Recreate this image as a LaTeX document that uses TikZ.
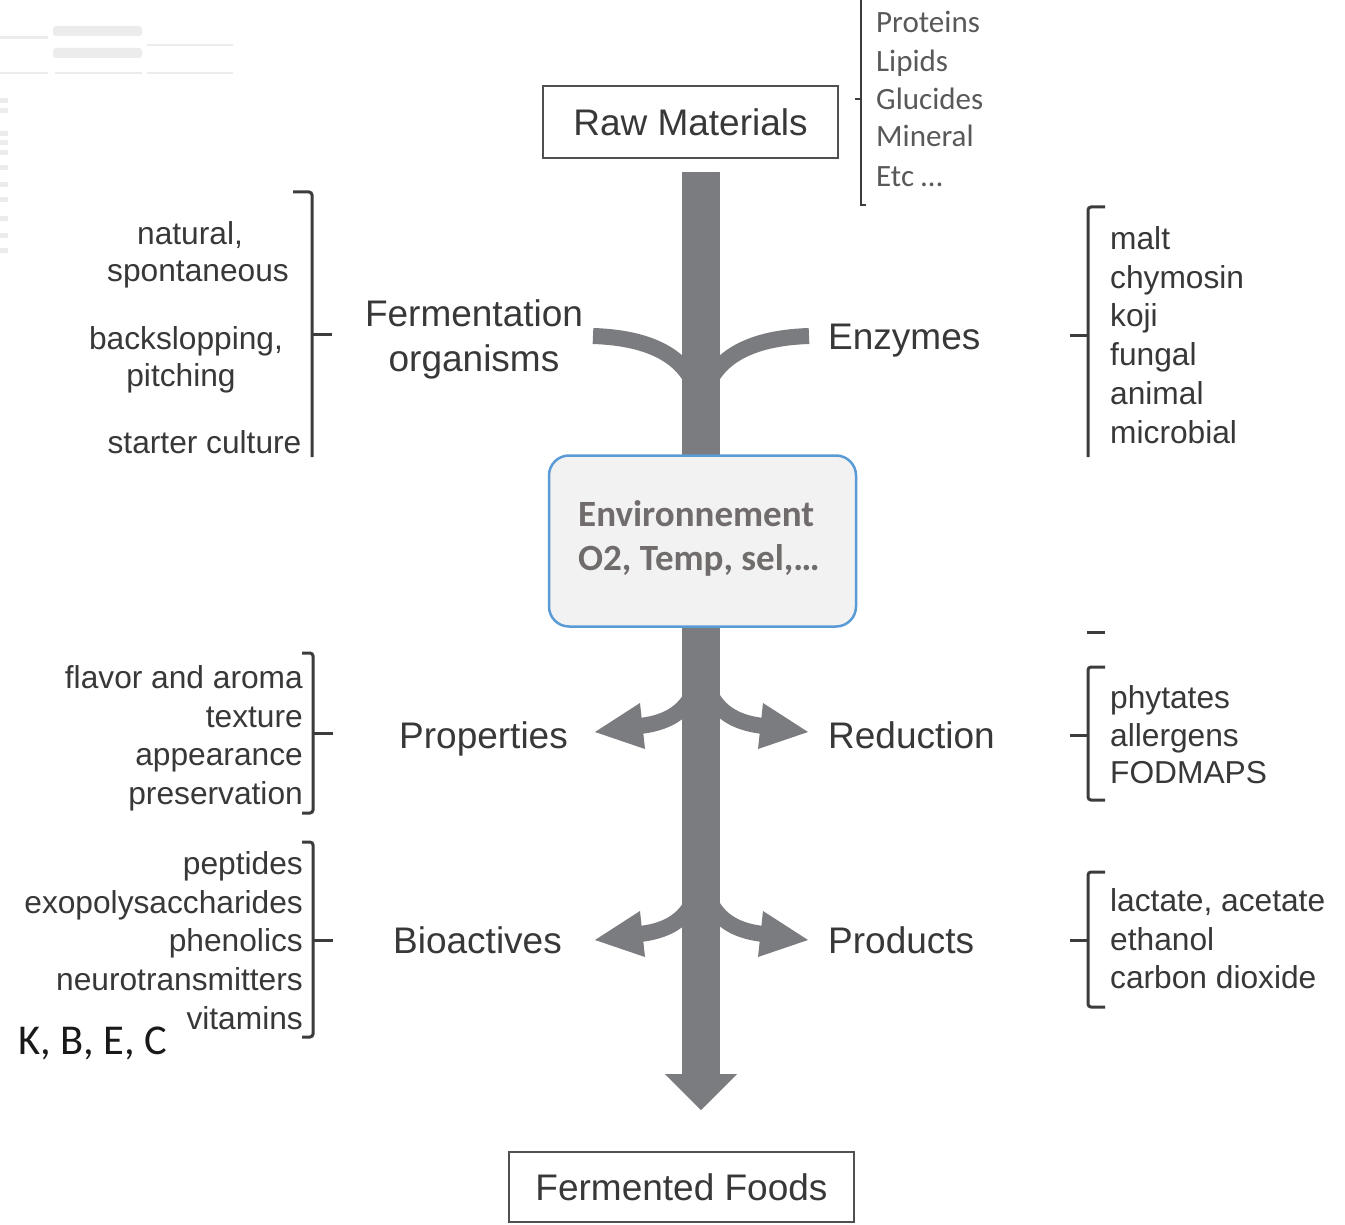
\documentclass[tikz,border=0pt]{standalone}
\usepackage{fontspec}
\setmainfont{Liberation Sans}
\newfontfamily\carl{Carlito}
\definecolor{labc}{HTML}{383838}
\definecolor{brkc}{HTML}{3C3C3C}
\definecolor{boxc}{HTML}{505050}
\definecolor{flowc}{HTML}{7B7C80}
\definecolor{envb}{HTML}{5B9BD5}
\definecolor{envf}{HTML}{F2F2F2}
\definecolor{envt}{HTML}{716C6C}
\definecolor{protc}{HTML}{595959}
\definecolor{ghost}{HTML}{ECECEC}
\begin{document}
\begin{tikzpicture}[x=1pt,y=-1pt,
  lab/.style={inner sep=0pt, text height=26.5pt, text depth=0pt, font=\fontsize{37}{44}\selectfont, text=labc},
  item/.style={inner sep=0pt, text height=22.7pt, text depth=0pt, font=\fontsize{31.7}{39}\selectfont, text=labc},
  prot/.style={inner sep=0pt, text height=20pt, text depth=0pt, font=\carl\fontsize{31}{38}\selectfont, text=protc, anchor=west},
  envtxt/.style={inner sep=0pt, text height=23.8pt, text depth=0pt, font=\carl\bfseries\fontsize{37}{45}\selectfont, text=envt, anchor=west},
  brk/.style={draw=brkc, line width=3pt, rounded corners=3pt},
  flow/.style={draw=flowc, line width=16pt},
  head/.style={fill=flowc},
  box/.style={draw=boxc, line width=2pt, inner sep=0pt, text height=26.5pt, text depth=0pt, font=\fontsize{37}{44}\selectfont, text=labc}
]
\useasboundingbox (0,0) rectangle (1345,1225);
\fill[white] (0,0) rectangle (1345,1225);

% faint remnants top-left
\draw[ghost, line width=3pt] (0,38) -- (48,38);
\fill[ghost, rounded corners=3pt] (53,26) rectangle (142,36);
\fill[ghost, rounded corners=3pt] (53,48) rectangle (142,58);
\draw[ghost, line width=2pt] (147,45) -- (233,45);
\draw[ghost, line width=2pt] (0,73) -- (48,73) (55,73) -- (142,73) (147,73) -- (233,73);
\foreach \yy in {98,108,131,140,150,165,182,197,216,233,248}{
  \fill[ghost] (0,\yy) rectangle (8,\yy+5);
}

% trunk
\coordinate (trunktop) at (701,172);
\coordinate (trunkend) at (701,1075);
\draw[flowc, line width=38pt] (trunktop) -- (trunkend);
\fill[head] (665,1074) -- (737,1074) -- (701,1110) -- cycle;

% top branches
\draw[flow] (593,336) .. controls (655,338) and (701,360) .. (701,420);
\draw[flow] (809,336) .. controls (747,338) and (701,360) .. (701,420);

% lower arrows
\foreach \dy in {0,208}{
  \draw[flow] (701,650+\dy) .. controls (701,697+\dy) and (683,721+\dy) .. (640,726+\dy);
  \fill[head] (595,732+\dy) -- (640,703+\dy) -- (645,749+\dy) -- cycle;
  \draw[flow] (702,650+\dy) .. controls (702,697+\dy) and (720,721+\dy) .. (763,726+\dy);
  \fill[head] (808,732+\dy) -- (763,703+\dy) -- (758,749+\dy) -- cycle;
}

% boxes
\node[box, minimum width=295pt, minimum height=72pt] (raw) at (690.5,122) {Raw Materials};
\node[box, minimum width=345pt, minimum height=70pt] (ferm) at (681.5,1187) {Fermented Foods};
\node[draw=envb, fill=envf, line width=2.5pt, rounded corners=20pt, minimum width=307pt, minimum height=171pt, inner sep=0pt] (env) at (702.5,541) {};
\node[envtxt] (env1) at (578,515) {Environnement};
\node[envtxt] (env2) at (578,559) {O2, Temp, sel,\ldots};

% raw materials list
\draw[brkc, line width=1.2pt] (861,-2) -- (861,205) -- (866,205);
\draw[brkc, line width=1.2pt] (855,99) -- (861,99);
\node[prot] (p1) at (876,23) {Proteins};
\node[prot] (p2) at (876,62) {Lipids};
\node[prot] (p3) at (876,100) {Glucides};
\node[prot] (p4) at (876,137) {Mineral};
\node[prot] (p5) at (876,177) {Etc \ldots};

% main labels
\node[lab] (fo1) at (474,313) {Fermentation};
\node[lab] (fo2) at (474,358) {organisms};
\node[lab, anchor=west] (enz) at (828,336) {Enzymes};
\node[lab] (prop) at (483.5,735) {Properties};
\node[lab, anchor=west] (red) at (828,735) {Reduction};
\node[lab] (bio) at (477.5,940) {Bioactives};
\node[lab, anchor=west] (prod) at (828,940) {Products};

% left top bracket
\draw[brk] (293,192) -- (312,192) -- (312,457);
\draw[brk] (312,334) -- (332,334);
\node[item] (n1) at (190,233) {natural,};
\node[item] (n2) at (198,270) {spontaneous};
\node[item] (n3) at (186,338) {backslopping,};
\node[item] (n4) at (181,375) {pitching};
\node[item] (n5) at (204.5,442) {starter culture};

% right top bracket
\draw[brk] (1105,207) -- (1088,207) -- (1088,457);
\draw[brk] (1070,335) -- (1088,335);
\draw[brk] (1087,632) -- (1105,632);
\foreach \t/\yy/\nm in {malt/238/e1, chymosin/277/e2, koji/315/e3, fungal/354/e4, animal/393/e5, microbial/432/e6}{
  \node[item, anchor=west] (\nm) at (1110,\yy) {\t};
}

% properties bracket
\draw[brk] (302,653) -- (313,653) -- (313,813) -- (302,813);
\draw[brk] (313,733) -- (333,733);
\foreach \t/\yy/\nm in {flavor and aroma/677/q1, texture/716/q2, appearance/754/q3, preservation/793/q4}{
  \node[item, anchor=east] (\nm) at (303,\yy) {\t};
}

% bioactives bracket
\draw[brk] (302,842) -- (313,842) -- (313,1037) -- (302,1037);
\draw[brk] (313,940) -- (333,940);
\foreach \t/\yy/\nm in {peptides/863/b1, exopolysaccharides/902/b2, phenolics/940/b3, neurotransmitters/979/b4, vitamins/1018/b5}{
  \node[item, anchor=east] (\nm) at (303,\yy) {\t};
}
\node[inner sep=0pt, text height=27.4pt, text depth=0pt, font=\carl\fontsize{42.5}{50}\selectfont, text=black!90, anchor=west] (kbec) at (18,1041) {K, B, E, C};

% reduction bracket
\draw[brk] (1105,667) -- (1088,667) -- (1088,800) -- (1105,800);
\draw[brk] (1070,735) -- (1088,735);
\foreach \t/\yy/\nm in {phytates/697/r1, allergens/735/r2, FODMAPS/772/r3}{
  \node[item, anchor=west] (\nm) at (1110,\yy) {\t};
}

% products bracket
\draw[brk] (1105,872) -- (1088,872) -- (1088,1007) -- (1105,1007);
\draw[brk] (1070,940) -- (1088,940);
\foreach \t/\yy/\nm in {{lactate, acetate}/900/s1, ethanol/939/s2, carbon dioxide/977/s3}{
  \node[item, anchor=west] (\nm) at (1110,\yy) {\t};
}
\end{tikzpicture}
\end{document}
